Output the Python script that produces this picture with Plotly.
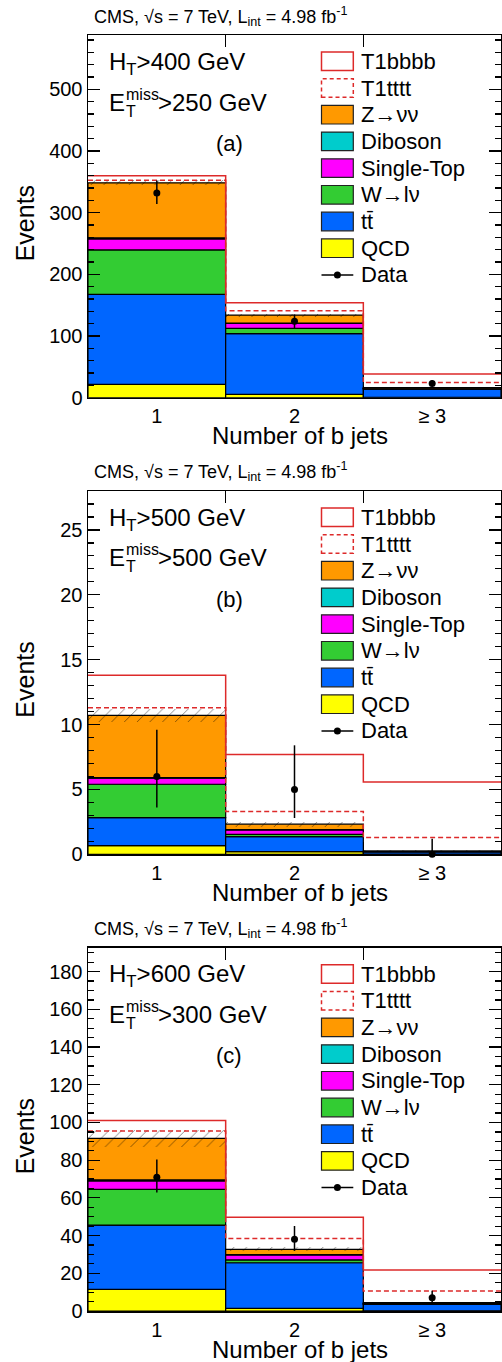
import plotly.graph_objects as go
import numpy as np

# ---------------- data ----------------
bins = ["1", "2", "≥ 3"]
panel_tags = ["(a)", "(b)", "(c)"]
ht_cuts = ["400", "500", "600"]
met_cuts = ["250", "500", "300"]
y_max = [588, 28, 192.7]
y_major = [100, 5, 20]
y_minor = [20, 1, 5]

# panel (a)  HT>400, MET>250
qcd_a = [21.6, 5.4, 0.5]
ttbar_a = [146.0, 98.6, 13.5]
wjets_a = [72.0, 8.4, 0.7]
stop_a = [18.0, 8.0, 0.5]
diboson_a = [1.5, 0.6, 0.1]
zinv_a = [89.3, 13.0, 0.9]
unc_a = [4.0, 2.5, 1.0]
t1tttt_a = [352.5, 141.0, 24.8]
t1bbbb_a = [360.0, 154.0, 38.4]
data_a = [332, 124, 23]
data_up_a = [20.0, 11.0, 5.8]
data_dn_a = [18.0, 11.0, 4.8]

# panel (b)  HT>500, MET>500
qcd_b = [0.67, 0.2, 0.01]
ttbar_b = [2.16, 1.16, 0.17]
wjets_b = [2.57, 0.18, 0.02]
stop_b = [0.46, 0.34, 0.02]
diboson_b = [0.05, 0.02, 0.0]
zinv_b = [4.8, 0.42, 0.03]
unc_b = [0.5, 0.2, 0.05]
t1tttt_b = [11.3, 3.3, 1.29]
t1bbbb_b = [13.8, 7.7, 5.58]
data_b = [6, 5, 0]
data_up_b = [3.6, 3.4, 1.2]
data_dn_b = [2.4, 2.2, 0.0]

# panel (c)  HT>600, MET>300
qcd_c = [11.5, 1.4, 0.1]
ttbar_c = [34.1, 24.2, 3.45]
wjets_c = [18.9, 1.5, 0.2]
stop_c = [4.5, 2.6, 0.2]
diboson_c = [0.5, 0.2, 0.05]
zinv_c = [22.1, 2.8, 0.4]
unc_c = [4.5, 1.0, 0.5]
t1tttt_c = [95.5, 38.4, 10.6]
t1bbbb_c = [101.0, 49.7, 21.7]
data_c = [71, 38, 7]
data_up_c = [9.4, 7.1, 3.8]
data_dn_c = [8.2, 6.1, 2.6]

bkg_names = ["QCD", "tt̄", "W→lν", "Single-Top", "Diboson", "Z→νν"]
bkg_colors = ["#ffff00", "#0066ff", "#33cc33", "#ff00ff", "#00cccc", "#ff9900"]
red = "#dd2a2a"
FONT = "Liberation Sans, Arial, Helvetica, sans-serif"

panels = [
    dict(bkg=[qcd_a, ttbar_a, wjets_a, stop_a, diboson_a, zinv_a], unc=unc_a,
         t1tttt=t1tttt_a, t1bbbb=t1bbbb_a, data=data_a, up=data_up_a, dn=data_dn_a),
    dict(bkg=[qcd_b, ttbar_b, wjets_b, stop_b, diboson_b, zinv_b], unc=unc_b,
         t1tttt=t1tttt_b, t1bbbb=t1bbbb_b, data=data_b, up=data_up_b, dn=data_dn_b),
    dict(bkg=[qcd_c, ttbar_c, wjets_c, stop_c, diboson_c, zinv_c], unc=unc_c,
         t1tttt=t1tttt_c, t1bbbb=t1bbbb_c, data=data_c, up=data_up_c, dn=data_dn_c),
]

# ---------------- layout geometry ----------------
W, H = 502, 1362
ML, MR, MT, MB = 88, 1, 35, 51
plot_h = H - MT - MB
plot_w = W - ML - MR
panel_tops = [35, 491, 947.7]
panel_bottoms = [397.7, 854.3, 1311]

xc = np.arange(len(bins))
edges = np.append(xc - 0.5, xc[-1] + 0.5)

fig = go.Figure()
shapes = []
annotations = []

for i, p in enumerate(panels):
    sfx = "" if i == 0 else str(i + 1)
    xa, ya = "x" + sfx, "y" + sfx
    # stacked background
    base = np.zeros(len(bins))
    for name, col, vals in zip(bkg_names, bkg_colors, p["bkg"]):
        v = np.array(vals, dtype=float)
        fig.add_trace(go.Bar(x=xc, y=v, base=base.copy(), width=1.0, name=name,
                             marker=dict(color=col, line=dict(color="black", width=1.2)),
                             xaxis=xa, yaxis=ya, showlegend=False))
        base = base + v
    total = base
    unc = np.array(p["unc"], dtype=float)
    fig.add_trace(go.Bar(x=xc, y=2 * unc, base=total - unc, width=1.0,
                         marker=dict(color="rgba(0,0,0,0)", line=dict(width=0),
                                     pattern=dict(shape="/", fgcolor="black", bgcolor="rgba(0,0,0,0)",
                                                  size=9, solidity=0.1, fillmode="overlay")),
                         xaxis=xa, yaxis=ya, showlegend=False))
    # signal outlines
    for sig, dash in [(p["t1bbbb"], "solid"), (p["t1tttt"], "5px,3px")]:
        fig.add_trace(go.Scatter(x=edges, y=list(sig) + [sig[-1]], mode="lines",
                                 line=dict(color=red, width=1.5, dash=dash, shape="hv"),
                                 xaxis=xa, yaxis=ya, showlegend=False))
    # data
    fig.add_trace(go.Scatter(x=xc, y=p["data"], mode="markers",
                             marker=dict(color="black", size=7),
                             error_y=dict(type="data", array=p["up"], arrayminus=p["dn"],
                                          color="black", thickness=1.5, width=0),
                             cliponaxis=False, xaxis=xa, yaxis=ya, showlegend=False))

    top, bot = panel_tops[i], panel_bottoms[i]
    ph = bot - top
    d0 = (H - MB - bot) / plot_h
    d1 = (H - MB - top) / plot_h
    fig.update_layout(**{
        "xaxis" + sfx: dict(domain=[0, 1], anchor=ya, range=[-0.5, 2.5],
                            tickvals=list(xc), ticktext=bins, ticks="",
                            minor=dict(tickvals=list(edges[1:-1]), ticks="inside", ticklen=12,
                                       tickcolor="black", tickwidth=1.2),
                            showline=True, linecolor="black", linewidth=1.5, mirror="ticks",
                            tickfont=dict(family=FONT, size=20, color="black"),
                            showgrid=False, zeroline=False, fixedrange=True),
        "yaxis" + sfx: dict(domain=[d0, d1], anchor=xa, range=[0, y_max[i]],
                            dtick=y_major[i], tick0=0, ticks="inside", ticklen=12,
                            tickcolor="black", tickwidth=1.2,
                            minor=dict(dtick=y_minor[i], tick0=0, ticks="inside", ticklen=6,
                                       tickcolor="black", tickwidth=1.2),
                            showline=True, linecolor="black", linewidth=1.5, mirror="ticks",
                            tickfont=dict(family=FONT, size=20, color="black"),
                            showgrid=False, zeroline=False, fixedrange=True),
    })

    xd = xa + " domain"
    yd = ya + " domain"

    def fx(px):
        return (px - ML) / plot_w

    def fy(py):  # py: pixels below panel top
        return 1 - py / ph

    # header
    annotations.append(dict(xref=xd, yref=yd, x=fx(92), y=1, yshift=19, xanchor="left", yanchor="middle",
                            text="CMS, √s = 7 TeV, L<sub>int</sub> = 4.98 fb<sup>-1</sup>",
                            showarrow=False, font=dict(family=FONT, size=18, color="black")))
    # cut labels
    annotations.append(dict(xref=xd, yref=yd, x=fx(107), y=fy(28), xanchor="left", yanchor="middle",
                            text="H<sub>T</sub>>" + ht_cuts[i] + " GeV",
                            showarrow=False, font=dict(family=FONT, size=24, color="black")))
    ey = fy(67)
    annotations.append(dict(xref=xd, yref=yd, x=fx(107), y=ey, xanchor="left", yanchor="middle",
                            text="E", showarrow=False, font=dict(family=FONT, size=24, color="black")))
    annotations.append(dict(xref=xd, yref=yd, x=fx(124), y=ey, yshift=8, xanchor="left", yanchor="middle",
                            text="miss", showarrow=False, font=dict(family=FONT, size=16, color="black")))
    annotations.append(dict(xref=xd, yref=yd, x=fx(124), y=ey, yshift=-9, xanchor="left", yanchor="middle",
                            text="T", showarrow=False, font=dict(family=FONT, size=16, color="black")))
    annotations.append(dict(xref=xd, yref=yd, x=fx(156), y=ey, xanchor="left", yanchor="middle",
                            text=">" + met_cuts[i] + " GeV", showarrow=False,
                            font=dict(family=FONT, size=24, color="black")))
    annotations.append(dict(xref=xd, yref=yd, x=fx(229), y=fy(108), xanchor="center", yanchor="middle",
                            text=panel_tags[i], showarrow=False, font=dict(family=FONT, size=22, color="black")))
    # axis titles
    annotations.append(dict(xref="paper", yref=yd, x=(25 - ML) / plot_w, y=fy(ph / 2 + 7),
                            xanchor="center", yanchor="middle", textangle=-90,
                            text="Events", showarrow=False, font=dict(family=FONT, size=25, color="black")))
    annotations.append(dict(xref=xd, yref=yd, x=fx(300), y=0, yshift=-38, xanchor="center", yanchor="middle",
                            text="Number of b jets", showarrow=False,
                            font=dict(family=FONT, size=24, color="black")))

    # manual legend
    lx0, lx1, ltx = fx(321.5), fx(353.3), fx(359)
    leg_items = [("T1bbbb", "sig_solid"), ("T1tttt", "sig_dash")] + \
                [(n, c) for n, c in zip(bkg_names[::-1], bkg_colors[::-1])] + [("Data", "data")]
    for k, (lab, sty) in enumerate(leg_items):
        cy = 26.3 + 26.7 * k
        if sty == "data":
            shapes.append(dict(type="line", xref=xd, yref=yd, x0=lx0, x1=lx1, y0=fy(cy), y1=fy(cy),
                               line=dict(color="black", width=1.5)))
            shapes.append(dict(type="circle", xref=xd, yref=yd, xsizemode="pixel", ysizemode="pixel",
                               xanchor=(lx0 + lx1) / 2, yanchor=fy(cy), x0=-3.5, x1=3.5, y0=-3.5, y1=3.5,
                               fillcolor="black", line=dict(color="black", width=0)))
        elif sty.startswith("sig"):
            shapes.append(dict(type="rect", xref=xd, yref=yd, x0=lx0, x1=lx1, y0=fy(cy + 9.3), y1=fy(cy - 9.3),
                               fillcolor="white",
                               line=dict(color=red, width=1.5, dash="solid" if sty == "sig_solid" else "4px,3px")))
        else:
            shapes.append(dict(type="rect", xref=xd, yref=yd, x0=lx0, x1=lx1, y0=fy(cy + 9.3), y1=fy(cy - 9.3),
                               fillcolor=sty, line=dict(color="#222222", width=1.2)))
        annotations.append(dict(xref=xd, yref=yd, x=ltx, y=fy(cy), xanchor="left", yanchor="middle",
                                text=lab, showarrow=False, font=dict(family=FONT, size=22, color="black")))

fig.update_layout(width=W, height=H, margin=dict(l=ML, r=MR, t=MT, b=MB, autoexpand=False),
                  paper_bgcolor="white", plot_bgcolor="white", barmode="overlay", bargap=0,
                  showlegend=False, shapes=shapes, annotations=annotations,
                  font=dict(family=FONT, color="black"))

fig.write_html("out.html", config={"displayModeBar": False, "staticPlot": True},
               post_script="document.body.style.margin='0';document.body.style.padding='0';"
                           "document.body.style.overflow='hidden';"
                           "document.documentElement.style.overflow='hidden';")
